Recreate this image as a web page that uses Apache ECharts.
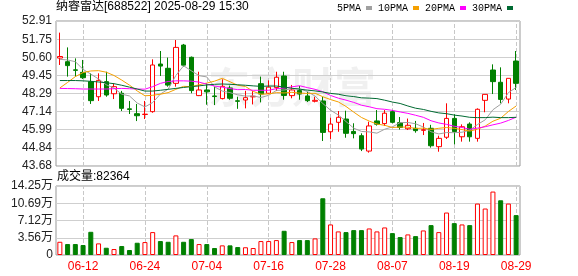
<!DOCTYPE html>
<html><head><meta charset="utf-8">
<script src="https://cdn.jsdelivr.net/npm/echarts@6/dist/echarts.min.js"></script>
<style>html,body{margin:0;padding:0;background:#fff}#c{width:578px;height:276px}</style>
</head><body><div id="c"></div>
<script>
const titleText = '纳睿雷达[688522] 2025-08-29 15:30';
const volTitle = '成交量:82364';
const dates = ['06-09','06-10','06-11','06-12','06-13','06-16','06-17','06-18','06-19','06-20','06-23','06-24','06-25','06-26','06-27','06-30','07-01','07-02','07-03','07-04','07-07','07-08','07-09','07-10','07-11','07-14','07-15','07-16','07-17','07-18','07-21','07-22','07-23','07-24','07-25','07-28','07-29','07-30','07-31','08-01','08-04','08-05','08-06','08-07','08-08','08-11','08-12','08-13','08-14','08-15','08-18','08-19','08-20','08-21','08-22','08-25','08-26','08-27','08-28','08-29'];
const labelDates = ['06-12','06-24','07-04','07-16','07-28','08-07','08-19','08-29'];
const opens = [50.55,50.32,49.80,49.64,49.05,48.09,49.05,48.28,48.31,47.32,47.01,46.96,47.14,50.17,49.90,48.94,51.38,50.60,48.16,48.52,48.14,47.97,48.65,47.83,47.88,48.08,48.92,48.31,48.67,49.41,48.16,48.48,48.14,47.80,47.82,45.86,46.46,46.67,45.88,45.61,44.63,46.55,46.38,47.14,46.44,46.05,46.08,45.95,46.08,44.91,45.51,46.71,45.54,46.35,45.44,47.86,49.79,49.01,47.94,50.36];
const closes = [50.65,50.07,49.77,49.30,47.84,49.13,48.20,48.73,47.35,47.28,46.88,46.98,50.11,50.04,48.83,51.23,50.10,48.48,48.52,48.40,48.10,48.75,47.99,47.80,48.03,48.12,48.26,48.70,49.33,48.17,48.52,48.26,47.84,47.86,45.82,46.35,46.78,45.76,45.74,44.76,46.23,46.34,47.04,46.46,46.13,46.27,45.93,45.99,44.97,45.44,46.71,45.87,46.18,45.54,47.29,48.24,49.05,47.92,49.26,48.94];
const lows = [50.11,49.37,49.37,49.22,47.63,47.82,48.09,47.94,47.18,46.99,46.54,46.67,47.07,49.41,48.73,48.73,50.00,48.31,48.13,47.58,47.56,47.92,47.90,47.32,47.35,47.60,47.73,48.25,48.45,47.90,47.99,47.90,47.75,47.73,45.27,45.40,45.86,45.48,45.44,44.63,44.53,46.25,46.23,46.40,46.00,45.97,45.80,45.65,44.85,44.59,45.40,45.06,45.23,45.23,45.23,47.10,48.26,47.67,47.67,48.52];
const highs = [52.17,51.23,50.53,50.43,49.58,49.58,49.68,48.94,48.46,47.82,47.63,47.82,50.47,51.00,50.58,51.70,51.45,50.65,49.68,48.94,48.73,49.20,48.80,48.09,48.47,48.45,49.37,49.13,49.68,49.68,48.84,48.78,48.41,48.09,48.09,46.75,47.18,47.20,46.40,45.76,46.50,47.24,47.24,47.25,46.80,46.70,46.55,46.42,46.30,45.61,47.67,46.97,46.33,46.46,47.35,48.24,50.15,49.96,49.26,51.00];
const volumes = [27300,22600,22600,20600,47900,24000,15000,12300,18500,10300,25300,26700,47300,28800,27300,40500,27300,32900,22600,22600,14400,19900,19900,16400,16000,14400,28800,28800,30800,50000,26700,30800,30800,34300,117200,63100,48700,47300,51400,51400,54800,48700,56900,45200,37000,42500,39000,50700,61700,47300,87700,65800,63100,61700,106200,96000,131000,113000,106200,82364];
const ma5 = [50.47,50.43,50.32,49.83,49.53,49.22,48.85,48.64,48.25,48.14,47.69,47.44,47.72,48.26,48.57,49.44,50.06,49.74,49.43,49.35,48.72,48.45,48.35,48.21,48.13,48.14,48.04,48.18,48.49,48.52,48.60,48.60,48.42,48.13,47.66,47.23,46.93,46.51,46.09,45.88,45.85,45.77,46.02,46.17,46.44,46.45,46.37,46.16,45.86,45.72,45.81,45.80,45.83,45.95,46.32,46.62,47.26,47.61,48.35,48.68];
const ma10 = [48.65,49.00,49.37,49.63,49.73,49.75,49.65,49.44,49.15,48.83,48.46,48.15,48.18,48.25,48.35,48.56,48.75,48.73,48.85,48.96,49.08,49.26,49.04,48.82,48.74,48.43,48.25,48.27,48.35,48.33,48.37,48.32,48.30,48.31,48.09,47.91,47.76,47.47,47.11,46.77,46.54,46.35,46.27,46.13,46.16,46.15,46.07,46.09,46.01,46.08,46.13,46.08,46.00,45.90,46.02,46.22,46.53,46.72,47.15,47.50];
const ma20 = [48.62,48.61,48.60,48.58,48.58,48.58,48.58,48.60,48.62,48.60,48.58,48.57,48.73,48.94,49.06,49.10,49.10,49.08,49.02,48.89,48.77,48.70,48.61,48.54,48.55,48.50,48.50,48.50,48.60,48.64,48.72,48.79,48.67,48.56,48.41,48.17,48.00,47.87,47.73,47.55,47.45,47.33,47.29,47.22,47.12,47.03,46.91,46.78,46.56,46.42,46.33,46.21,46.13,46.02,46.09,46.18,46.30,46.41,46.58,46.79];
const ma30 = [49.12,49.12,49.12,49.10,49.07,49.03,48.98,48.92,48.82,48.70,48.58,48.45,48.45,48.50,48.56,48.62,48.68,48.73,48.78,48.84,48.88,48.90,48.88,48.85,48.82,48.78,48.75,48.77,48.77,48.70,48.63,48.57,48.51,48.46,48.39,48.30,48.25,48.15,48.10,48.02,48.00,47.97,47.87,47.75,47.66,47.50,47.36,47.28,47.16,47.06,47.01,46.92,46.86,46.78,46.76,46.76,46.79,46.76,46.76,46.78];
const priceTicks = [43.68,44.84,45.99,47.14,48.29,49.45,50.60,51.75,52.91];
const volTicks = [0,35625,71250,106875,142500];
const volTickLabels = ['0','3.56万','7.12万','10.69万','14.25万'];
const maNames = ['5PMA','10PMA','20PMA','30PMA'];
const maColors = ['#a0a0a0','#f5a000','#ff00ff','#006a32'];

const FONT = "'Liberation Sans','Noto Sans CJK SC',sans-serif";
const GRID_LINE = '#cfcfcf';
const chart = echarts.init(document.getElementById('c'), null, {renderer:'canvas'});

const candleData = dates.map((d,i)=>[opens[i], closes[i], lows[i], highs[i]]);
const volData = volumes.map((v,i)=>{
  const up = i === 0 ? true : closes[i] >= closes[i-1];
  return {value:v, itemStyle: up ? {color:'#fff', borderColor:'#f00', borderWidth:1} : {color:'#008000', borderColor:'#008000', borderWidth:1}};
});
const vline = () => ({silent:true, symbol:['none','none'], label:{show:false}, z:1, animation:false,
  lineStyle:{color:'#c8c8c8', type:'dashed', width:1}, emphasis:{disabled:true},
  data: labelDates.map(d=>({xAxis:d}))});
function nearestLabel(v, ticks, labels){
  let bi = 0; for (let i=1;i<ticks.length;i++) if (Math.abs(ticks[i]-v) < Math.abs(ticks[bi]-v)) bi = i;
  return labels ? labels[bi] : ticks[bi].toFixed(2);
}
const maSeries = [ma5, ma10, ma20, ma30].map((arr, k)=>({
  name: maNames[k], type:'line', xAxisIndex:0, yAxisIndex:0, data:arr, symbol:'none', showSymbol:false,
  lineStyle:{width:1, color:maColors[k]}, itemStyle:{color:maColors[k]}, z:3, silent:true
}));
maSeries[0].markLine = vline();

const option = {
  animation:false,
  title:[
    {text:titleText, left:56, top:1, padding:0, textStyle:{fontSize:12, fontWeight:'normal', color:'#000', fontFamily:FONT}},
    {text:volTitle, left:57, top:171, padding:0, textStyle:{fontSize:12, fontWeight:'normal', color:'#000', fontFamily:FONT}}
  ],
  legend:{data:maNames, left:337, top:3, padding:0, icon:'rect', itemWidth:6, itemHeight:4, align:'right', itemGap:6,
    textStyle:{fontFamily:"'Liberation Mono',monospace", fontSize:10, color:'#000'}, selectedMode:false},
  graphic:[{type:'text', left:208, top:66, z:0, silent:true,
    style:{text:'东方财富', fontSize:42, fontWeight:'bold', fill:'rgba(0,0,0,0.06)', fontFamily:"'Noto Sans CJK SC'"}}],
  grid:[
    {left:56, top:21, width:464, height:145, show:true, borderColor:'#999', borderWidth:1},
    {left:56, top:186, width:464, height:69, show:true, borderColor:'#999', borderWidth:1}
  ],
  xAxis:[
    {type:'category', gridIndex:0, data:dates, boundaryGap:true, axisLine:{show:false}, axisTick:{show:false}, axisLabel:{show:false}, splitLine:{show:false}},
    {type:'category', gridIndex:1, data:dates, boundaryGap:true, axisLine:{show:false}, axisTick:{show:false}, splitLine:{show:false},
      axisLabel:{color:'#f00', fontSize:12, margin:6, fontFamily:FONT, interval:(idx, val)=>labelDates.includes(val)}}
  ],
  yAxis:[
    {type:'value', gridIndex:0, min:priceTicks[0], max:priceTicks[priceTicks.length-1],
      axisLine:{show:false}, axisTick:{show:false, customValues:priceTicks},
      axisLabel:{customValues:priceTicks, color:'#222', fontSize:12, margin:4, fontFamily:FONT, formatter:v=>nearestLabel(v, priceTicks)},
      splitLine:{show:true, lineStyle:{color:GRID_LINE, width:1}}},
    {type:'value', gridIndex:1, min:volTicks[0], max:volTicks[volTicks.length-1],
      axisLine:{show:false}, axisTick:{show:false, customValues:volTicks},
      axisLabel:{customValues:volTicks, color:'#222', fontSize:12, margin:3, fontFamily:FONT, formatter:v=>nearestLabel(v, volTicks, volTickLabels)},
      splitLine:{show:true, lineStyle:{color:GRID_LINE, width:1}}}
  ],
  series:[
    {type:'candlestick', name:'K', xAxisIndex:0, yAxisIndex:0, data:candleData, barWidth:5, z:2, silent:true,
      itemStyle:{color:'#fff', color0:'#008000', borderColor:'#f00', borderColor0:'#008000', borderWidth:1}},
    ...maSeries,
    {type:'bar', name:'VOL', xAxisIndex:1, yAxisIndex:1, data:volData, barWidth:5, silent:true, z:2, markLine: vline()}
  ]
};
chart.setOption(option);
</script></body></html>
